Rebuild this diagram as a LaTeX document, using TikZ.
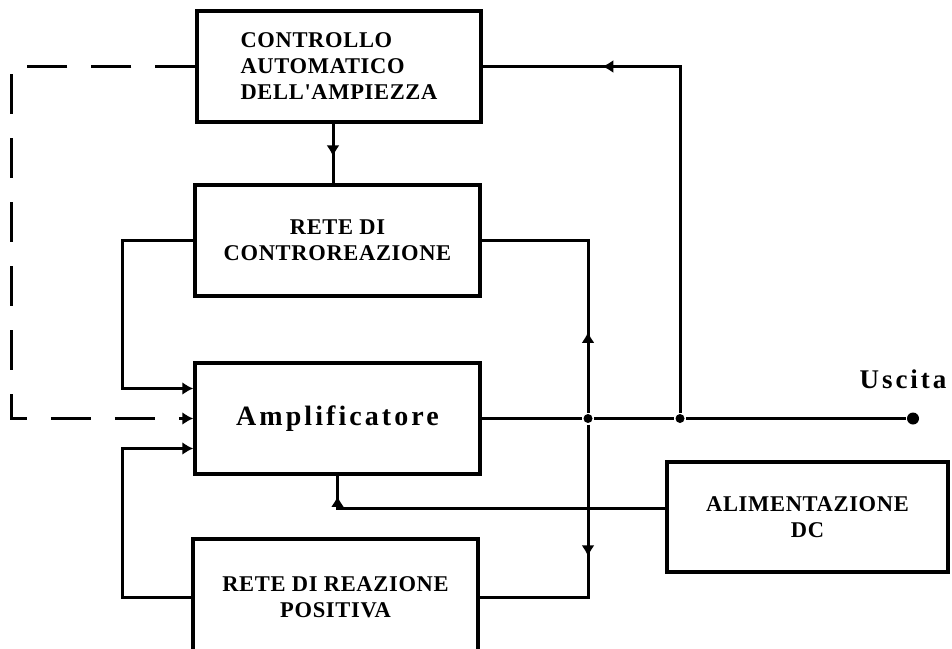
\documentclass[tikz,border=0pt]{standalone}
\usepackage{fontspec}
\setmainfont{Liberation Serif}
\newfontfamily\boxfont[LetterSpace=3]{Liberation Serif}
\newfontfamily\widefont[LetterSpace=11]{Liberation Serif}
\usetikzlibrary{arrows.meta,decorations.markings}

\begin{document}
\begin{tikzpicture}[x=1pt,y=-1pt,line width=3pt,>={Latex[length=11pt,width=13pt]}]
  \tikzstyle{block}=[draw,line width=3.5pt,minimum width=285pt,minimum height=111pt,
  inner sep=0pt,align=center,font=\boxfont\bfseries\fontsize{22.5}{26}\selectfont]
  \tikzstyle{dot}=[fill,circle,inner sep=0pt,minimum size=9pt]
  \tikzset{arrowat/.style={postaction={decorate},
  decoration={markings,mark=at position #1 with {\arrow{>}}}}}

  \useasboundingbox (0,0) rectangle (952,648);
  \clip (0,0) rectangle (952,648);

  % blocks
  \node[block,minimum width=284pt,align=left] (ctrl) at (339,66.5)
    {CONTROLLO\\AUTOMATICO\\DELL'AMPIEZZA};
  \node[block] (neg) at (337.5,240.5) {RETE DI\\CONTROREAZIONE};
  \node[block,font=\widefont\bfseries\fontsize{28}{30}\selectfont] (amp)
    at (337.5,418.5) {Amplificatore};
  \node[block,minimum height=116pt] (pos) at (335.5,597) {RETE DI REAZIONE\\POSITIVA};
  \node[block,minimum width=281pt,minimum height=110pt] (dc) at (807.5,517)
    {ALIMENTAZIONE\\DC};

  % junctions and output
  \node[dot] (j1) at (588,418.5) {};
  \node[dot] (j2) at (680,418.5) {};
  \node[dot,minimum size=12pt] (out) at (913,418.5) {};
  \node[anchor=base,font=\widefont\bfseries\fontsize{27}{30}\selectfont] (uscita)
    at (903,388) {Uscita};

  % connections
  \draw (amp.east) -- (j1) -- (j2) -- (out);
  \draw[arrowat=0.78] (j2) |- (ctrl.east);
  \draw[arrowat=0.55] ([xshift=-6pt]ctrl.south) -- ([xshift=-4.5pt]neg.north);
  \draw[->] (neg.west) -| (122,388.5) -- ([yshift=30pt]amp.west);
  \draw[->,dash pattern=on 40pt off 24pt] (ctrl.west) -| (11,418.5) -- (amp.west);
  \draw[->] (pos.west) -| (122,448.5) -- ([yshift=-30pt]amp.west);
  \draw[arrowat=0.29] (j1) |- (neg.east);
  \draw[arrowat=0.47] (j1) |- (pos.east);
  \draw[arrowat=0.944] ([yshift=9pt]dc.west) -| (amp.south);
\end{tikzpicture}
\end{document}
